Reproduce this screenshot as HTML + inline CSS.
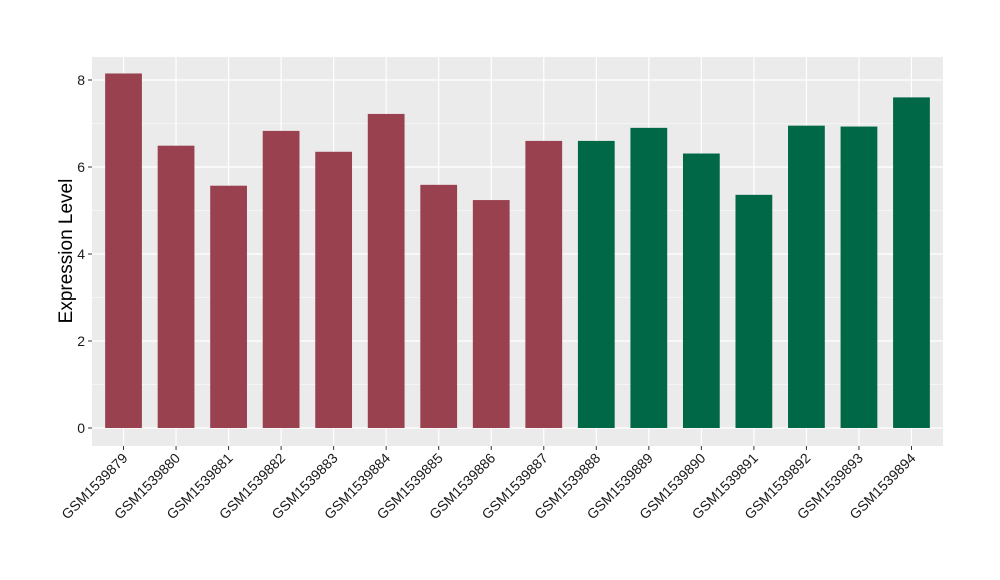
<!DOCTYPE html>
<html><head><meta charset="utf-8"><style>
body{margin:0;background:#fff;}
svg{display:block;font-family:"Liberation Sans",Arial,sans-serif;}
</style></head><body>
<svg id="chart" width="1000" height="580" xmlns="http://www.w3.org/2000/svg">
<rect width="1000" height="580" fill="#fff"/>
<rect x="92" y="57" width="851" height="389" fill="#EBEBEB"/>
<g id="grid"></g>
<g id="bars"></g>
<g id="axes"></g>
<text transform="translate(72,251) rotate(-90)" text-anchor="middle" font-size="19" fill="#000">Expression Level</text>
</svg>
<script>
const categories=["GSM1539879","GSM1539880","GSM1539881","GSM1539882","GSM1539883","GSM1539884","GSM1539885","GSM1539886","GSM1539887","GSM1539888","GSM1539889","GSM1539890","GSM1539891","GSM1539892","GSM1539893","GSM1539894"];
const values=[8.15,6.49,5.57,6.83,6.35,7.22,5.59,5.24,6.6,6.6,6.9,6.31,5.36,6.95,6.93,7.6];
const groups=[0,0,0,0,0,0,0,0,0,1,1,1,1,1,1,1];
const yTicks=[0,2,4,6,8];
const colors=["#9A4150","#006846"];
const NS="http://www.w3.org/2000/svg";
const px0=92,px1=943,py0=57,py1=446;
const y0=428,yPerUnit=43.5;
function y(v){return y0-v*yPerUnit;}
const step=(px1-px0)/(categories.length-1+1.2);
function x(i){return px0+(0.6+i)*step;}
function mk(tag,attrs,parent){const e=document.createElementNS(NS,tag);for(const k in attrs)e.setAttribute(k,attrs[k]);parent.appendChild(e);return e;}
const grid=document.getElementById('grid'),bars=document.getElementById('bars'),axes=document.getElementById('axes');
for(let i=0;i<yTicks.length;i++){
  const t=yTicks[i];
  if(i<yTicks.length-1){const m=(t+yTicks[i+1])/2;const l=mk('line',{x1:px0,x2:px1,y1:y(m),y2:y(m),stroke:'#fff','stroke-width':0.6},grid);
  
  }
  const g=mk('line',{x1:px0,x2:px1,y1:y(t),y2:y(t),stroke:'#fff','stroke-width':1.2},grid);
  
  
  const tk=mk('line',{x1:px0-4,x2:px0,y1:y(t),y2:y(t),stroke:'#333','stroke-width':1},axes);
  
  
  const lb=mk('text',{x:px0-7,y:y(t)+5,'text-anchor':'end','font-size':14,fill:'#1a1a1a'},axes);
  lb.textContent=t;
  
  
}
const bw=step*0.7;
categories.forEach((c,i)=>{
  const gl=mk('line',{x1:x(i),x2:x(i),y1:py0,y2:py1,stroke:'#fff','stroke-width':1.2},grid);
  
  
  const r=mk('rect',{x:x(i)-bw/2,y:y(values[i]),width:bw,height:values[i]*yPerUnit,fill:colors[groups[i]]},bars);
  
  
  const tk=mk('line',{x1:x(i),x2:x(i),y1:py1,y2:py1+4,stroke:'#333','stroke-width':1},axes);
  
  
  const lb=mk('text',{transform:`translate(${x(i)+5},${py1+13}) rotate(-45)`,'text-anchor':'end','font-size':14,fill:'#1a1a1a'},axes);
  lb.textContent=c;
  
  
});
</script>
</body></html>
